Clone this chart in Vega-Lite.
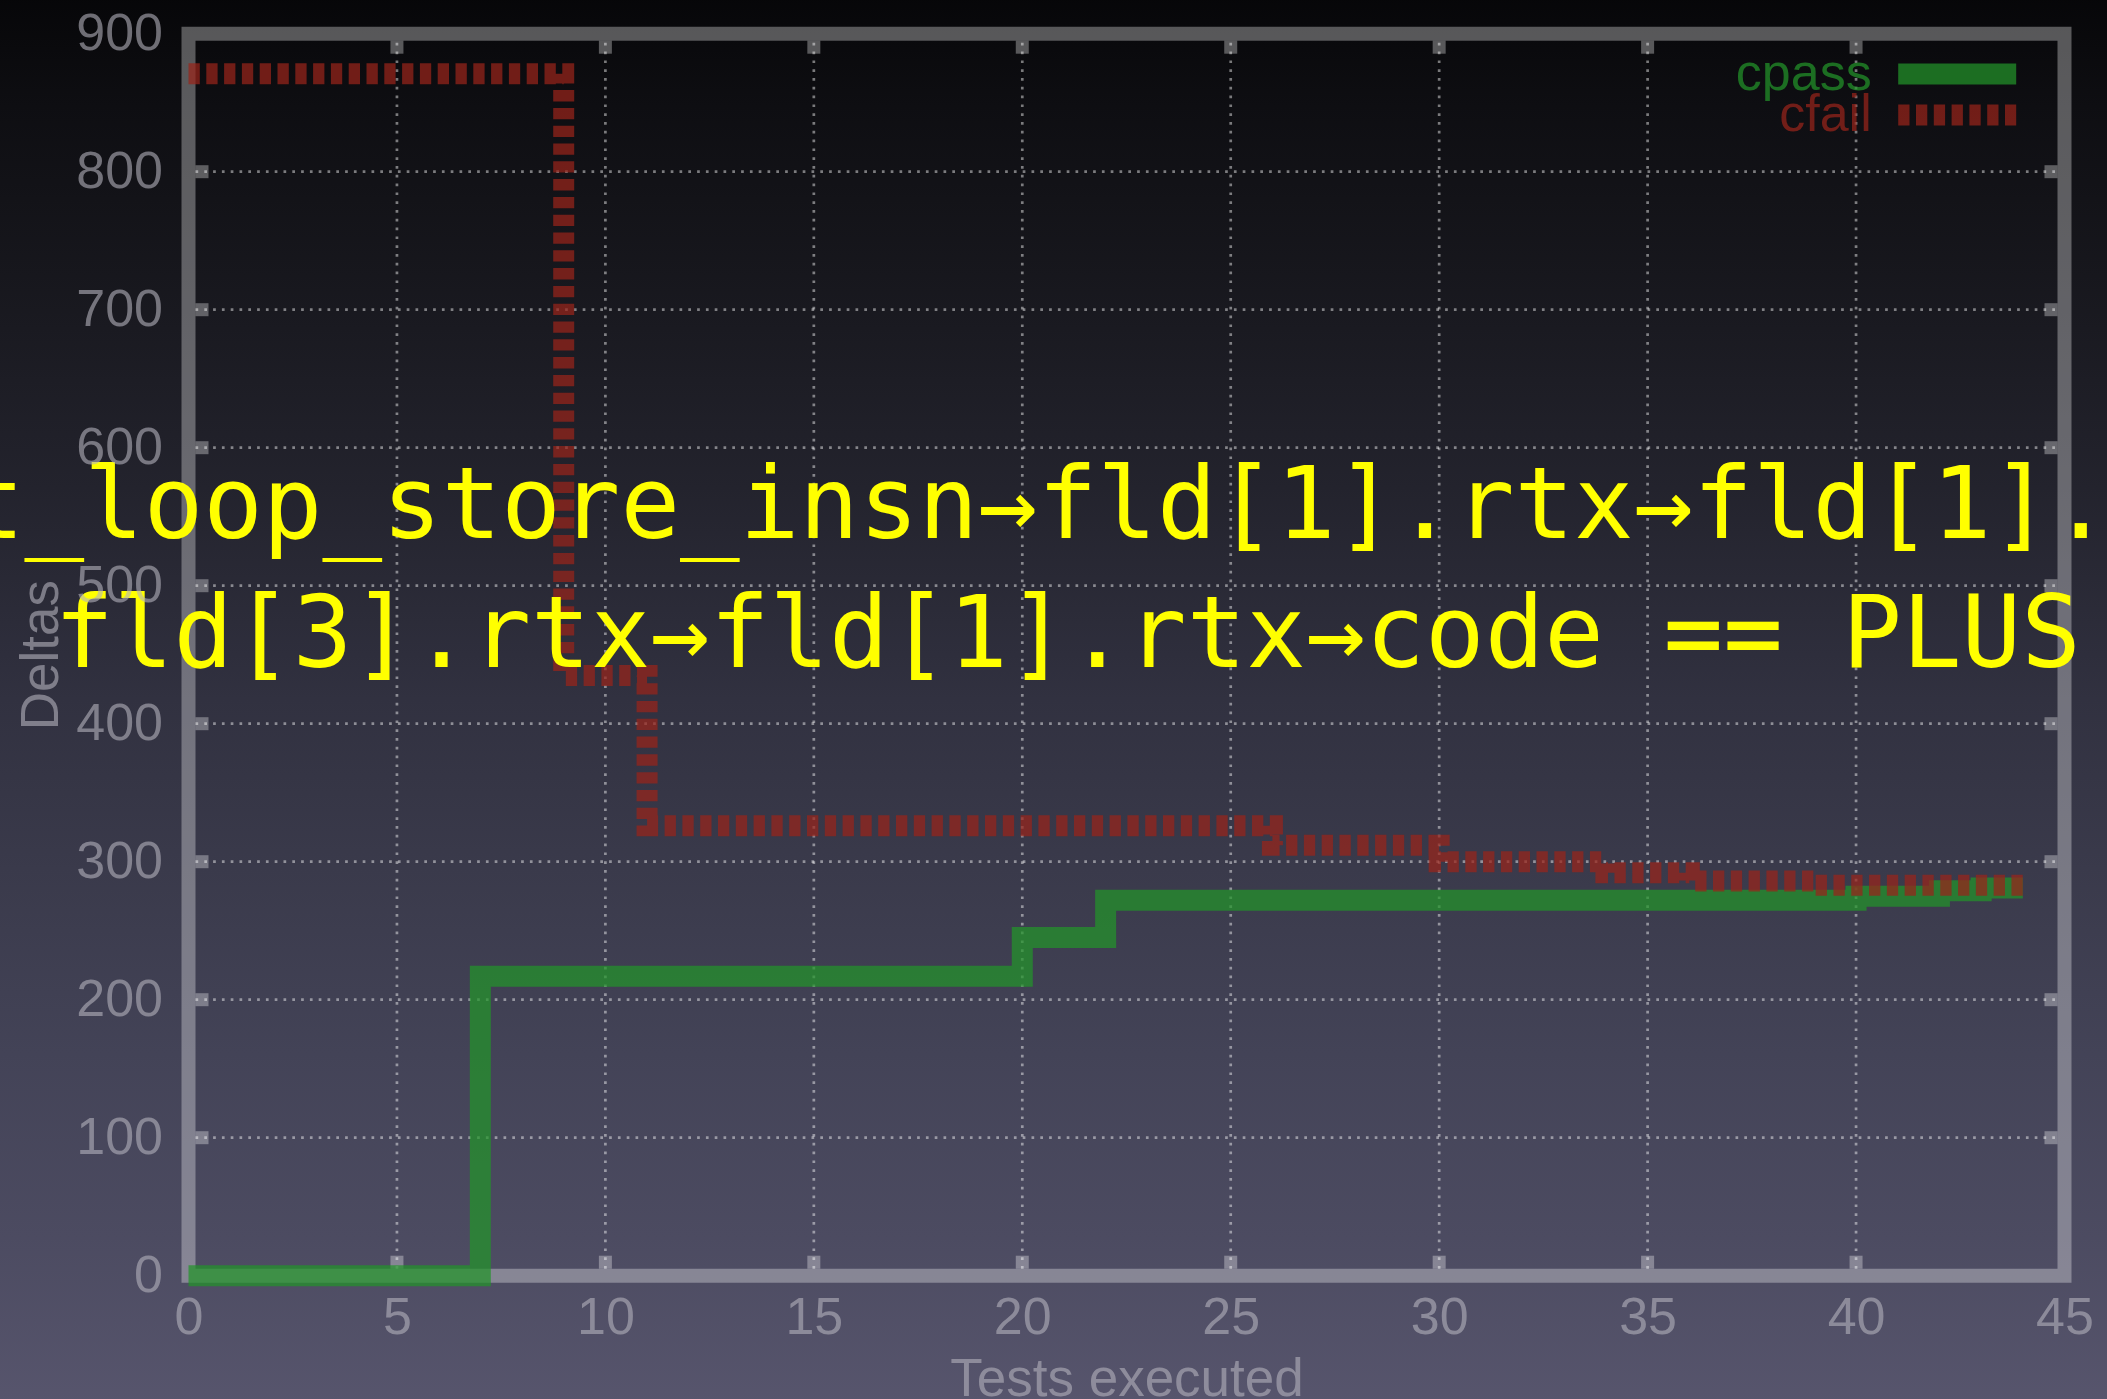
{
  "$schema": "https://vega.github.io/schema/vega-lite/v6.json",
  "width": 1876,
  "height": 1242,
  "autosize": {"type": "none"},
  "padding": {"left": 188.5, "top": 33.7, "right": 42.5, "bottom": 123.3},
  "background": "#3a3a4b",
  "title": {
    "text": ["last_loop_store_insn→fld[1].rtx→fld[1].rtx→", "fld[3].rtx→fld[1].rtx→code == PLUS"],
    "anchor": "middle",
    "frame": "group",
    "offset": -696,
    "dx": -59,
    "font": "DejaVu Sans Mono",
    "fontSize": 99,
    "fontWeight": "normal",
    "color": "#ffff00",
    "lineHeight": 129
  },
  "datasets": {
    "cpass": [
      {"series": "cpass", "tests": 0, "deltas": 0},
      {"series": "cpass", "tests": 7, "deltas": 217},
      {"series": "cpass", "tests": 20, "deltas": 245},
      {"series": "cpass", "tests": 22, "deltas": 272},
      {"series": "cpass", "tests": 40, "deltas": 275},
      {"series": "cpass", "tests": 42, "deltas": 279},
      {"series": "cpass", "tests": 43, "deltas": 281},
      {"series": "cpass", "tests": 44, "deltas": 281}
    ],
    "cfail": [
      {"series": "cfail", "tests": 0, "deltas": 871},
      {"series": "cfail", "tests": 9, "deltas": 435},
      {"series": "cfail", "tests": 11, "deltas": 326},
      {"series": "cfail", "tests": 26, "deltas": 312},
      {"series": "cfail", "tests": 30, "deltas": 300},
      {"series": "cfail", "tests": 34, "deltas": 292},
      {"series": "cfail", "tests": 36, "deltas": 286},
      {"series": "cfail", "tests": 39, "deltas": 283},
      {"series": "cfail", "tests": 44, "deltas": 283}
    ],
    "xticks": [{"v": 5}, {"v": 10}, {"v": 15}, {"v": 20}, {"v": 25}, {"v": 30}, {"v": 35}, {"v": 40}],
    "yticks": [{"v": 100}, {"v": 200}, {"v": 300}, {"v": 400}, {"v": 500}, {"v": 600}, {"v": 700}, {"v": 800}],
    "frame": [{"id": "border"}]
  },
  "layer": [
    {
      "data": {"name": "frame"},
      "mark": {
        "type": "rect",
        "clip": false,
        "color": {
          "gradient": "linear",
          "x1": 0, "y1": 0, "x2": 0, "y2": 1,
          "stops": [
            {"offset": 0, "color": "#060608"},
            {"offset": 0.08, "color": "#0e0e12"},
            {"offset": 0.2, "color": "#17171d"},
            {"offset": 0.35, "color": "#23232d"},
            {"offset": 0.5, "color": "#313140"},
            {"offset": 0.62, "color": "#3a3a4b"},
            {"offset": 0.75, "color": "#434357"},
            {"offset": 0.88, "color": "#4c4b61"},
            {"offset": 1, "color": "#57556d"}
          ]
        }
      },
      "encoding": {
        "x": {"datum": -5, "type": "quantitative", "scale": {"domain": [0, 45], "nice": false, "zero": false}},
        "x2": {"datum": 47},
        "y": {"datum": -95, "type": "quantitative", "scale": {"domain": [0, 900], "nice": false, "zero": false}},
        "y2": {"datum": 930}
      }
    },
    {
      "data": {"name": "yticks"},
      "mark": {"type": "rule", "color": "#ffffff", "opacity": 0.45, "strokeWidth": 2.7, "strokeDash": [2.7, 6.1], "xOffset": 7, "x2Offset": -7},
      "encoding": {
        "y": {"field": "v", "type": "quantitative", "scale": {"domain": [0, 900], "nice": false, "zero": false}},
        "x": {"datum": 0, "type": "quantitative", "scale": {"domain": [0, 45], "nice": false, "zero": false}},
        "x2": {"datum": 45}
      }
    },
    {
      "data": {"name": "xticks"},
      "mark": {"type": "rule", "color": "#ffffff", "opacity": 0.45, "strokeWidth": 2.7, "strokeDash": [2.7, 6.1], "yOffset": -7, "y2Offset": 7},
      "encoding": {
        "x": {"field": "v", "type": "quantitative", "scale": {"domain": [0, 45], "nice": false, "zero": false}},
        "y": {"datum": 0, "type": "quantitative", "scale": {"domain": [0, 900], "nice": false, "zero": false}},
        "y2": {"datum": 900}
      }
    },
    {
      "data": {"name": "frame"},
      "mark": {"type": "rect", "filled": false, "color": "#ffffff", "strokeOpacity": 0.32, "strokeWidth": 14},
      "encoding": {
        "x": {"datum": 0, "type": "quantitative", "scale": {"domain": [0, 45], "nice": false, "zero": false}},
        "x2": {"datum": 45},
        "y": {"datum": 0, "type": "quantitative", "scale": {"domain": [0, 900], "nice": false, "zero": false}},
        "y2": {"datum": 900}
      }
    },
    {
      "data": {"name": "xticks"},
      "mark": {"type": "rule", "color": "#ffffff", "opacity": 0.32, "strokeWidth": 13, "strokeCap": "butt", "yOffset": -7, "y2Offset": -20},
      "encoding": {
        "x": {"field": "v", "type": "quantitative", "scale": {"domain": [0, 45], "nice": false, "zero": false}},
        "y": {"datum": 0, "type": "quantitative", "scale": {"domain": [0, 900], "nice": false, "zero": false}},
        "y2": {"datum": 0}
      }
    },
    {
      "data": {"name": "xticks"},
      "mark": {"type": "rule", "color": "#ffffff", "opacity": 0.32, "strokeWidth": 13, "strokeCap": "butt", "yOffset": 7, "y2Offset": 20},
      "encoding": {
        "x": {"field": "v", "type": "quantitative", "scale": {"domain": [0, 45], "nice": false, "zero": false}},
        "y": {"datum": 900, "type": "quantitative", "scale": {"domain": [0, 900], "nice": false, "zero": false}},
        "y2": {"datum": 900}
      }
    },
    {
      "data": {"name": "yticks"},
      "mark": {"type": "rule", "color": "#ffffff", "opacity": 0.32, "strokeWidth": 13, "strokeCap": "butt", "xOffset": 7, "x2Offset": 20},
      "encoding": {
        "y": {"field": "v", "type": "quantitative", "scale": {"domain": [0, 900], "nice": false, "zero": false}},
        "x": {"datum": 0, "type": "quantitative", "scale": {"domain": [0, 45], "nice": false, "zero": false}},
        "x2": {"datum": 0}
      }
    },
    {
      "data": {"name": "yticks"},
      "mark": {"type": "rule", "color": "#ffffff", "opacity": 0.32, "strokeWidth": 13, "strokeCap": "butt", "xOffset": -7, "x2Offset": -20},
      "encoding": {
        "y": {"field": "v", "type": "quantitative", "scale": {"domain": [0, 900], "nice": false, "zero": false}},
        "x": {"datum": 45, "type": "quantitative", "scale": {"domain": [0, 45], "nice": false, "zero": false}},
        "x2": {"datum": 45}
      }
    },
    {
      "data": {"name": "cpass"},
      "mark": {"type": "line", "interpolate": "step-after", "strokeWidth": 21, "strokeCap": "butt", "strokeJoin": "miter", "opacity": 0.72},
      "encoding": {
        "x": {
          "field": "tests", "type": "quantitative",
          "scale": {"domain": [0, 45], "nice": false, "zero": false},
          "axis": {
            "zindex": 1,
            "title": "Tests executed",
            "values": [0, 5, 10, 15, 20, 25, 30, 35, 40, 45],
            "labelFlush": false,
            "labelPadding": 17,
            "titleX": 938,
            "titleY": 119.3,
            "titleAlign": "center",
            "titleBaseline": "alphabetic"
          }
        },
        "y": {
          "field": "deltas", "type": "quantitative",
          "scale": {"domain": [0, 900], "nice": false, "zero": false},
          "axis": {
            "zindex": 1,
            "title": "Deltas",
            "values": [0, 100, 200, 300, 400, 500, 600, 700, 800, 900],
            "labelFlush": false,
            "labelPadding": 26,
            "titleX": -131.5,
            "titleY": 621,
            "titleAngle": 270,
            "titleAlign": "center",
            "titleBaseline": "alphabetic"
          }
        },
        "color": {
          "field": "series", "type": "nominal",
          "scale": {"domain": ["cpass", "cfail"], "range": ["#23942a", "#98241a"]},
          "legend": {"title": null, "values": ["cpass"], "orient": "none", "legendX": 1699.2, "legendY": -29.2, "labelColor": "#23942a"}
        },
        "strokeDash": {
          "field": "series", "type": "nominal",
          "scale": {"domain": ["cfail", "cpass"], "range": [[11.3, 6.5], [1, 0]]},
          "legend": {"title": null, "values": ["cfail"], "orient": "none", "legendX": 1699.2, "legendY": 11.8, "labelColor": "#98241a", "symbolStrokeColor": "#98241a"}
        }
      }
    },
    {
      "data": {"name": "cfail"},
      "mark": {"type": "line", "interpolate": "step-after", "strokeWidth": 21, "strokeCap": "butt", "strokeJoin": "miter", "opacity": 0.72},
      "encoding": {
        "x": {"field": "tests", "type": "quantitative", "scale": {"domain": [0, 45], "nice": false, "zero": false}, "title": "Tests executed"},
        "y": {"field": "deltas", "type": "quantitative", "scale": {"domain": [0, 900], "nice": false, "zero": false}, "title": "Deltas"},
        "color": {
          "field": "series", "type": "nominal",
          "scale": {"domain": ["cpass", "cfail"], "range": ["#23942a", "#98241a"]},
          "legend": {"title": null, "values": ["cpass"], "orient": "none", "legendX": 1699.2, "legendY": -29.2, "labelColor": "#23942a"}
        },
        "strokeDash": {
          "field": "series", "type": "nominal",
          "scale": {"domain": ["cfail", "cpass"], "range": [[11.3, 6.5], [1, 0]]},
          "legend": {"title": null, "values": ["cfail"], "orient": "none", "legendX": 1699.2, "legendY": 11.8, "labelColor": "#98241a", "symbolStrokeColor": "#98241a"}
        }
      }
    }
  ],
  "config": {
    "view": {"stroke": null},
    "axis": {
      "domain": false,
      "ticks": false,
      "tickSize": 0,
      "grid": false,
      "labelFlush": false,
      "labelFont": "Liberation Sans",
      "labelFontSize": 52,
      "labelColor": "#b4b3bc",
      "labelOpacity": 0.6,
      "titleFont": "Liberation Sans",
      "titleFontSize": 53,
      "titleFontWeight": "normal",
      "titleColor": "#b4b3bc",
      "titleOpacity": 0.6
    },
    "legend": {
      "padding": 0,
      "symbolType": "stroke",
      "symbolSize": 13924,
      "symbolStrokeWidth": 21,
      "symbolOpacity": 0.72,
      "symbolOffset": 0,
      "labelFont": "Liberation Sans",
      "labelFontSize": 52,
      "labelOpacity": 0.72,
      "labelAlign": "right",
      "labelOffset": -155,
      "labelLimit": 0
    }
  }
}
